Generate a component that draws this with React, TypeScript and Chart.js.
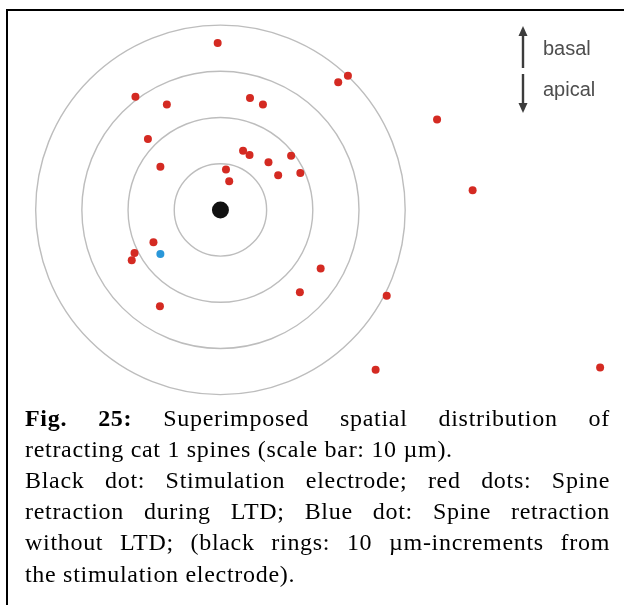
import React, { useEffect, useRef } from "react";
import { Chart, registerables } from "chart.js";

Chart.register(...registerables);

// Positions in µm relative to the stimulation electrode (x right, y up = basal)
const ltdSpineX = [
  -0.6, -18.4, -11.6, 6.4, 9.2, -15.7, 4.9, 6.3, 10.4, 15.3, -13.0, 1.2, 12.5, 17.3,
  1.9, 27.6, 25.5, 46.9, 54.6, -14.5, -18.6, -19.2, 17.2, -13.1, 21.7, 36.0, 33.6, 82.2,
];
const ltdSpineY = [
  36.7, 24.9, 23.2, 24.6, 23.2, 15.6, 13.0, 12.1, 10.5, 11.9, 9.5, 8.9, 7.6, 8.1,
  6.3, 29.5, 28.1, 19.9, 4.3, -7.1, -9.5, -11.1, -18.1, -21.2, -12.9, -18.9, -35.2, -34.7,
];
const noLtdSpineX = [-13.0];
const noLtdSpineY = [-9.7];
const electrodeX = [0];
const electrodeY = [0];
const ringRadii = [10, 20, 30, 40];

const toPoints = (xs: number[], ys: number[]) => xs.map((x, i) => ({ x, y: ys[i] }));

const ringsPlugin = {
  id: "rings",
  beforeDatasetsDraw(chart: any) {
    const { ctx, scales } = chart;
    const cx = scales.x.getPixelForValue(electrodeX[0]);
    const cy = scales.y.getPixelForValue(electrodeY[0]);
    ctx.save();
    ctx.strokeStyle = "#bdbdbd";
    ctx.lineWidth = 1.4;
    ringRadii.forEach((r) => {
      const rp = scales.x.getPixelForValue(electrodeX[0] + r) - cx;
      ctx.beginPath();
      ctx.arc(cx, cy, rp, 0, Math.PI * 2);
      ctx.stroke();
    });
    ctx.restore();
  },
};

// Orientation key: basal up, apical down
const orientationPlugin = {
  id: "orientation",
  afterDraw(chart: any) {
    const { ctx } = chart;
    const ax = 515;
    ctx.save();
    ctx.strokeStyle = "#3c3c3c";
    ctx.fillStyle = "#3c3c3c";
    ctx.lineWidth = 2.4;
    ctx.beginPath();
    ctx.moveTo(ax, 22);
    ctx.lineTo(ax, 57);
    ctx.moveTo(ax, 63);
    ctx.lineTo(ax, 96);
    ctx.stroke();
    ctx.beginPath();
    ctx.moveTo(ax, 15);
    ctx.lineTo(ax - 4.5, 25);
    ctx.lineTo(ax + 4.5, 25);
    ctx.closePath();
    ctx.fill();
    ctx.beginPath();
    ctx.moveTo(ax, 102);
    ctx.lineTo(ax - 4.5, 92);
    ctx.lineTo(ax + 4.5, 92);
    ctx.closePath();
    ctx.fill();
    ctx.fillStyle = "#4e4e4e";
    ctx.font = "20px 'Liberation Sans', Arial, sans-serif";
    ctx.textBaseline = "alphabetic";
    ctx.fillText("basal", 535, 44);
    ctx.fillText("apical", 535, 85);
    ctx.restore();
  },
};

function SpineMap() {
  const ref = useRef<HTMLCanvasElement>(null);
  useEffect(() => {
    if (!ref.current) return;
    const chart = new Chart(ref.current, {
      type: "scatter",
      data: {
        datasets: [
          {
            label: "Spine retraction during LTD",
            data: toPoints(ltdSpineX, ltdSpineY),
            backgroundColor: "#d42a22",
            borderWidth: 0,
            pointRadius: 4,
            clip: false as any,
          },
          {
            label: "Spine retraction without LTD",
            data: toPoints(noLtdSpineX, noLtdSpineY),
            backgroundColor: "#2a97d9",
            borderWidth: 0,
            pointRadius: 4,
            clip: false as any,
          },
          {
            label: "Stimulation electrode",
            data: toPoints(electrodeX, electrodeY),
            backgroundColor: "#111111",
            borderWidth: 0,
            pointRadius: 8.5,
            clip: false as any,
          },
        ],
      },
      options: {
        animation: false,
        responsive: true,
        maintainAspectRatio: false,
        layout: { padding: 0 },
        plugins: { legend: { display: false }, tooltip: { enabled: false } },
        scales: {
          x: { type: "linear", display: false, min: -44.15, max: 85.53 },
          y: { type: "linear", display: false, min: -41.06, max: 41.89 },
        },
      },
      plugins: [ringsPlugin, orientationPlugin],
    });
    return () => chart.destroy();
  }, []);
  return <canvas ref={ref} />;
}

const lineStyle: React.CSSProperties = {
  whiteSpace: "nowrap",
  height: 31,
};
const justified: React.CSSProperties = {
  ...lineStyle,
  whiteSpace: "normal",
  textAlign: "justify",
  textAlignLast: "justify",
};

export default function App() {
  return (
    <div
      style={{
        position: "fixed",
        left: 0,
        top: 0,
        width: 624,
        height: 605,
        background: "#ffffff",
        overflow: "hidden",
      }}
    >
      <div
        style={{
          position: "absolute",
          left: 6,
          top: 9,
          width: 640,
          height: 620,
          borderTop: "2px solid #000",
          borderLeft: "2px solid #000",
        }}
      />
      <div style={{ position: "absolute", left: 8, top: 11, width: 616, height: 394 }}>
        <SpineMap />
      </div>
      <div
        style={{
          position: "absolute",
          left: 25,
          top: 403,
          width: 585,
          fontFamily: "'Liberation Serif', 'Times New Roman', serif",
          fontSize: 24,
          letterSpacing: "0.7px",
          lineHeight: "31px",
          color: "#000",
        }}
      >
        <div style={justified}>
          <b>Fig.</b> <b>25:</b> Superimposed spatial distribution of
        </div>
        <div style={lineStyle}>retracting cat 1 spines (scale bar: 10 µm).</div>
        <div style={justified}>Black dot: Stimulation electrode; red dots: Spine</div>
        <div style={justified}>retraction during LTD; Blue dot: Spine retraction</div>
        <div style={justified}>without LTD; (black rings: 10 µm-increments from</div>
        <div style={{ ...lineStyle, marginTop: 1 }}>the stimulation electrode).</div>
      </div>
    </div>
  );
}
